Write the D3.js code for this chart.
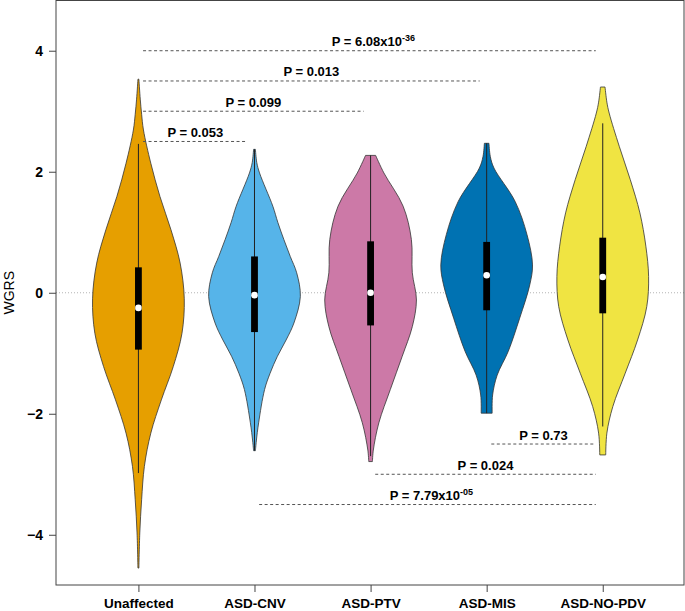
<!DOCTYPE html>
<html>
<head>
<meta charset="utf-8">
<script src="https://cdn.jsdelivr.net/npm/d3@7"></script>
<style>
  html, body { margin: 0; padding: 0; background: #fff; }
  svg { display: block; }
  text { font-family: "Liberation Sans", Arial, sans-serif; }
</style>
</head>
<body>
<svg id="chart" width="685" height="611"></svg>
<script>
// ---------------- DATA ----------------
const categories = ["Unaffected", "ASD-CNV", "ASD-PTV", "ASD-MIS", "ASD-NO-PDV"];
const fillColors = ["#E69F00", "#56B4E9", "#CC79A7", "#0072B2", "#F0E442"];

// violin outlines: [WGRS value, relative density]
const violinUnaffected = [[3.53,0.01],[3.2,0.04],[2.95,0.07],[2.69,0.11],[2.14,0.27],[1.59,0.47],[1.04,0.71],[0.49,0.91],[-0.1,1.0],[-0.67,0.95],[-1.22,0.76],[-1.77,0.50],[-2.32,0.27],[-2.87,0.13],[-3.42,0.07],[-3.97,0.03],[-4.55,0.01]];
const violinCNV = [[2.37,0.02],[2.15,0.05],[1.98,0.11],[1.43,0.40],[1.16,0.51],[0.88,0.64],[0.60,0.78],[0.33,0.92],[-0.06,1.0],[-0.50,0.86],[-0.78,0.69],[-1.05,0.50],[-1.33,0.34],[-1.60,0.22],[-2.15,0.09],[-2.45,0.04],[-2.61,0.02]];
const violinPTV = [[2.27,0.11],[1.98,0.29],[1.43,0.71],[0.88,0.89],[0.33,0.91],[-0.12,1.0],[-0.56,0.91],[-1.05,0.69],[-1.60,0.43],[-2.15,0.18],[-2.60,0.06],[-2.79,0.04]];
const violinMIS = [[2.47,0.05],[2.25,0.08],[2.06,0.16],[1.51,0.62],[0.96,0.88],[0.46,1.0],[0.13,0.94],[-0.42,0.72],[-0.97,0.47],[-1.36,0.23],[-1.69,0.13],[-1.99,0.12]];
const violinNOPDV = [[3.40,0.05],[3.15,0.09],[2.97,0.14],[2.42,0.36],[1.87,0.60],[1.32,0.81],[0.77,0.94],[0.27,1.0],[-0.23,0.96],[-0.78,0.76],[-1.33,0.49],[-1.88,0.22],[-2.32,0.09],[-2.68,0.065]];
const violins = [violinUnaffected, violinCNV, violinPTV, violinMIS, violinNOPDV];

// box-plot statistics
const medians   = [-0.25, -0.04, 0.00, 0.29, 0.26];
const q1        = [-0.94, -0.65, -0.54, -0.29, -0.34];
const q3        = [0.42, 0.60, 0.85, 0.84, 0.91];
const whiskLow  = [-2.98, -2.61, -2.70, -1.99, -2.21];
const whiskHigh = [2.46, 2.37, 2.27, 2.47, 2.80];

// comparisons: [from index, to index, y level, label, superscript]
const topComparisons = [
  [1, 2, 2.5, "P = 0.053", ""],
  [1, 3, 3.0, "P = 0.099", ""],
  [1, 4, 3.5, "P = 0.013", ""],
  [1, 5, 4.0, "P = 6.08x10", "-36"]
];
const bottomComparisons = [
  [4, 5, -2.5, "P = 0.73", ""],
  [3, 5, -3.0, "P = 0.024", ""],
  [2, 5, -3.5, "P = 7.79x10", "-05"]
];
const yTicks = [-4, -2, 0, 2, 4];
const yLabel = "WGRS";

// ---------------- CHART ----------------
const svg = d3.select("#chart");
const plot = { left: 56, right: 684, top: 0.5, bottom: 585 };

const x = d3.scaleLinear().domain([0.29, 5.70]).range([plot.left, plot.right]);
const y = d3.scaleLinear().domain([-4.83, 4.83]).range([plot.bottom, plot.top]);
const halfWidth = 0.395; // x units at density 1

// zero reference line
svg.append("line")
  .attr("x1", plot.left).attr("x2", plot.right)
  .attr("y1", y(0)).attr("y2", y(0))
  .attr("stroke", "#b5b5b5").attr("stroke-width", 1)
  .attr("stroke-dasharray", "1,2");

// violins
violins.forEach((v, i) => {
  const pos = i + 1;
  const area = d3.area()
    .y(d => y(d[0]))
    .x0(d => x(pos - halfWidth * d[1]))
    .x1(d => x(pos + halfWidth * d[1]))
    .curve(d3.curveCatmullRom.alpha(0.5));
  const pts = v.slice().sort((a, b) => a[0] - b[0]);
  svg.append("path")
    .attr("d", area(pts))
    .attr("fill", fillColors[i])
    .attr("stroke", "#333")
    .attr("stroke-width", 0.8);
});

// whiskers, boxes, medians
categories.forEach((c, i) => {
  const cx = x(i + 1);
  svg.append("line")
    .attr("x1", cx).attr("x2", cx)
    .attr("y1", y(whiskLow[i])).attr("y2", y(whiskHigh[i]))
    .attr("stroke", "#222").attr("stroke-width", 1);
  svg.append("rect")
    .attr("x", cx - 3.4).attr("width", 6.8)
    .attr("y", y(q3[i])).attr("height", y(q1[i]) - y(q3[i]))
    .attr("fill", "#000");
  svg.append("circle")
    .attr("cx", cx).attr("cy", y(medians[i]))
    .attr("r", 3.3).attr("fill", "#fff");
});

// comparison annotations
function drawComparison(c) {
  const [a, b, lvl, label, sup] = c;
  const x1 = x(a + 0.04);
  const x2 = x(b - 0.06);
  svg.append("line")
    .attr("x1", x1).attr("x2", x2)
    .attr("y1", y(lvl)).attr("y2", y(lvl))
    .attr("stroke", "#555").attr("stroke-width", 1)
    .attr("stroke-dasharray", "3,2.5");
  const t = svg.append("text")
    .attr("x", (x1 + x2) / 2 + (sup ? 4 : 0))
    .attr("y", y(lvl) - 4.5)
    .attr("text-anchor", "middle")
    .attr("font-weight", "bold")
    .attr("font-size", 13)
    .attr("fill", "#000");
  t.append("tspan").text(label);
  if (sup) {
    t.append("tspan").attr("dy", -5).attr("font-size", 9).text(sup);
  }
}
topComparisons.forEach(drawComparison);
bottomComparisons.forEach(drawComparison);

// frame
svg.append("rect")
  .attr("x", plot.left).attr("y", plot.top)
  .attr("width", plot.right - plot.left).attr("height", plot.bottom - plot.top)
  .attr("fill", "none").attr("stroke", "#444").attr("stroke-width", 1);

// y axis
const yAxis = svg.append("g")
  .attr("transform", `translate(${plot.left},0)`)
  .call(d3.axisLeft(y).tickValues(yTicks).tickSize(7).tickPadding(6).tickFormat(d3.format("d")));
yAxis.select(".domain").remove();
yAxis.selectAll(".tick line").attr("stroke", "#444");
yAxis.selectAll(".tick text")
  .attr("font-family", "Liberation Sans, Arial, sans-serif")
  .attr("font-size", 14).attr("font-weight", "bold").attr("fill", "#000");

// x axis
const xAxis = svg.append("g")
  .attr("transform", `translate(0,${plot.bottom})`)
  .call(d3.axisBottom(x).tickValues([1, 2, 3, 4, 5]).tickSize(7).tickPadding(6)
    .tickFormat(d => categories[d - 1]));
xAxis.select(".domain").remove();
xAxis.selectAll(".tick line").attr("stroke", "#444");
xAxis.selectAll(".tick text")
  .attr("font-family", "Liberation Sans, Arial, sans-serif")
  .attr("font-size", 13.5).attr("font-weight", "bold").attr("fill", "#000");

// y label
svg.append("text")
  .attr("transform", `translate(14,${y(0)}) rotate(-90)`)
  .attr("text-anchor", "middle")
  .attr("font-size", 14)
  .attr("fill", "#000")
  .text(yLabel);
</script>
</body>
</html>
